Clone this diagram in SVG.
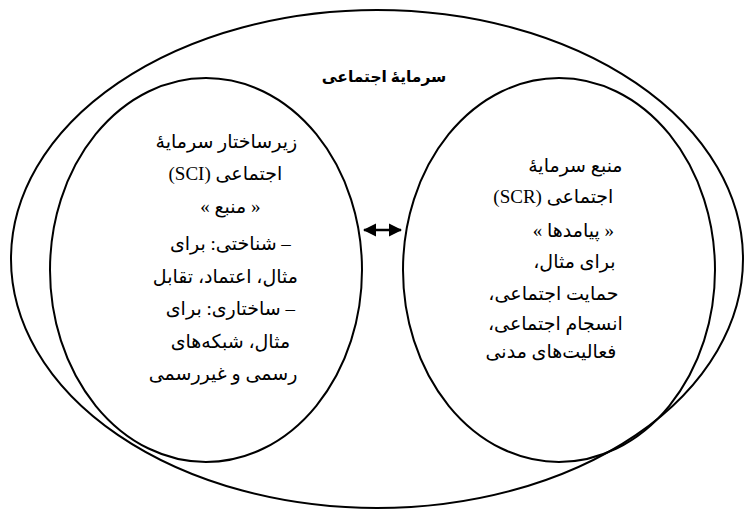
<svg xmlns="http://www.w3.org/2000/svg" width="745" height="514" viewBox="0 0 745 514">
<style>
.shape{fill:none;stroke:#000;stroke-width:2}
.t{font-family:'Liberation Serif','DejaVu Sans',serif;font-size:19px;fill:#000;text-anchor:middle}
.title{font-weight:bold;font-size:15.5px}
</style>
<defs>
<marker id="ah" markerUnits="userSpaceOnUse" markerWidth="14" markerHeight="14" viewBox="0 0 14 14" refX="12" refY="7" orient="auto-start-reverse">
<path d="M0,0.5 L13,7 L0,13.5 z" fill="#000"/>
</marker>
</defs>
<rect width="745" height="514" fill="#fff"/>
<g id="social-capital">
<ellipse class="shape" cx="377" cy="259" rx="366" ry="249"/>
<text class="t title" x="384" y="82" direction="rtl">سرمایهٔ اجتماعی</text>
</g>
<g id="sci">
<ellipse class="shape" cx="206" cy="270" rx="156" ry="192"/>
<text class="t" direction="rtl">
<tspan x="224" y="148">زیرساختار سرمایهٔ</tspan>
<tspan x="223" y="180">اجتماعی (SCI)</tspan>
<tspan x="228" y="213">« منبع »</tspan>
<tspan x="228" y="250">– شناختی: برای</tspan>
<tspan x="223" y="283">مثال، اعتماد، تقابل</tspan>
<tspan x="228" y="315">– ساختاری: برای</tspan>
<tspan x="228" y="348">مثال، شبکه‌های</tspan>
<tspan x="223" y="380">رسمی و غیررسمی</tspan>
</text>
</g>
<g id="scr">
<ellipse class="shape" cx="559" cy="270" rx="156" ry="192"/>
<text class="t" direction="rtl">
<tspan x="573" y="172">منبع سرمایهٔ</tspan>
<tspan x="551" y="203">اجتماعی (SCR)</tspan>
<tspan x="571" y="237">« پیامدها »</tspan>
<tspan x="572" y="268">برای مثال،</tspan>
<tspan x="551" y="300">حمایت اجتماعی،</tspan>
<tspan x="553" y="330">انسجام اجتماعی،</tspan>
<tspan x="551" y="358">فعالیت‌های مدنی</tspan>
</text>
</g>
<g id="connectors">
<line x1="364" y1="230" x2="401" y2="230" stroke="#000" stroke-width="2.5" marker-start="url(#ah)" marker-end="url(#ah)"/>
</g>
</svg>
